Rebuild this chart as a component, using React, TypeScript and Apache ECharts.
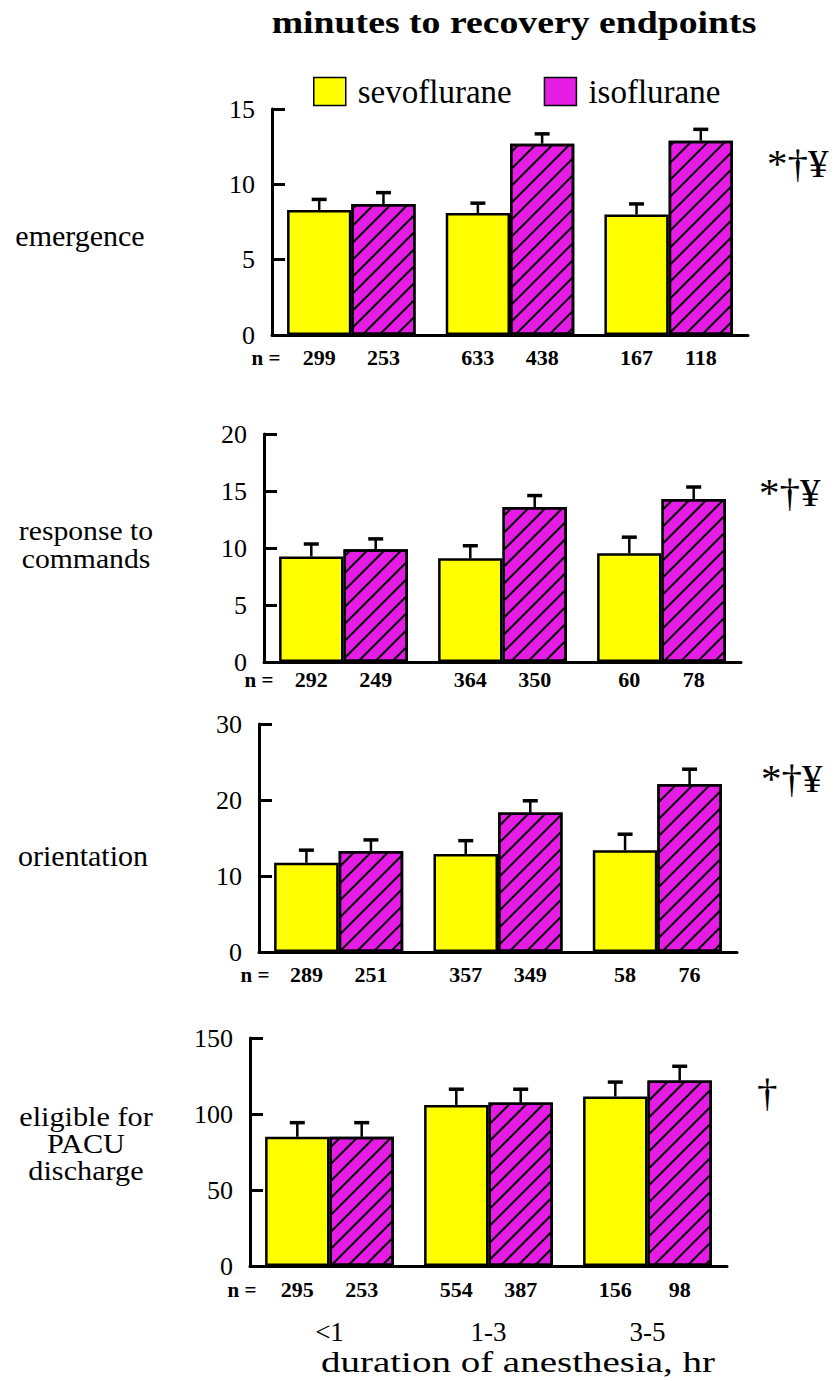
import React, { useEffect, useRef } from 'react';
import * as echarts from 'echarts';

// ---------- data ----------
const categories = ['<1', '1-3', '3-5'];
const seriesNames = ['sevoflurane', 'isoflurane'];
const panelLabels = ['emergence', 'response to\ncommands', 'orientation', 'eligible for\nPACU\ndischarge'];
const significance = ['*†¥', '*†¥', '*†¥', '†'];
const chartTitle = 'minutes to recovery endpoints';
const xAxisTitle = 'duration of anesthesia, hr';
const nPrefix = 'n =';

const axisMax = [15, 20, 30, 150];
const axisInterval = [5, 5, 10, 50];

// emergence
const emergenceSevo = [8.3, 8.1, 8.0];
const emergenceIso = [8.7, 12.7, 12.9];
const emergenceSevoErr = [0.7, 0.65, 0.7];
const emergenceIsoErr = [0.75, 0.65, 0.75];
const emergenceSevoN = [299, 633, 167];
const emergenceIsoN = [253, 438, 118];

// response to commands
const responseSevo = [9.25, 9.1, 9.55];
const responseIso = [9.9, 13.6, 14.3];
const responseSevoErr = [1.1, 1.1, 1.4];
const responseIsoErr = [0.9, 1.0, 1.05];
const responseSevoN = [292, 364, 60];
const responseIsoN = [249, 350, 78];

// orientation
const orientationSevo = [11.75, 12.9, 13.4];
const orientationIso = [13.3, 18.35, 22.1];
const orientationSevoErr = [1.65, 1.75, 2.1];
const orientationIsoErr = [1.45, 1.55, 1.95];
const orientationSevoN = [289, 357, 58];
const orientationIsoN = [251, 349, 76];

// eligible for PACU discharge
const pacuSevo = [85, 106, 111.5];
const pacuIso = [85, 107.5, 122];
const pacuSevoErr = [9.3, 10.3, 9.5];
const pacuIsoErr = [9.3, 8.8, 9.4];
const pacuSevoN = [295, 554, 156];
const pacuIsoN = [253, 387, 98];

const panels = [
  { sevo: emergenceSevo, iso: emergenceIso, sevoErr: emergenceSevoErr, isoErr: emergenceIsoErr, sevoN: emergenceSevoN, isoN: emergenceIsoN },
  { sevo: responseSevo, iso: responseIso, sevoErr: responseSevoErr, isoErr: responseIsoErr, sevoN: responseSevoN, isoN: responseIsoN },
  { sevo: orientationSevo, iso: orientationIso, sevoErr: orientationSevoErr, isoErr: orientationIsoErr, sevoN: orientationSevoN, isoN: orientationIsoN },
  { sevo: pacuSevo, iso: pacuIso, sevoErr: pacuSevoErr, isoErr: pacuIsoErr, sevoN: pacuSevoN, isoN: pacuIsoN },
];

// ---------- layout / style ----------
const W = 834;
const H = 1381;
const FONT = "'Liberation Serif', 'Times New Roman', serif";
const YELLOW = '#FFFF00';
const MAGENTA = '#E41CE4';

const grids = [
  { left: 272, top: 109, width: 476, height: 226 },
  { left: 264, top: 434, width: 477, height: 228 },
  { left: 259, top: 724, width: 478, height: 228 },
  { left: 250, top: 1038, width: 477, height: 228 },
];
const nLabelDistance = [11, 6, 11, 12];
const nPrefixPos = [[266, 358], [259, 680], [255, 975], [242, 1290]];
const labelPos = [[80, 235], [86, 544], [83, 855], [86, 1144]];
const labelFont = [30, 28, 30, 27];
const labelLineHeight = [30, 28, 30, 27];
const labelScaleX = [1, 1.06, 1, 1.12];
const sigPos = [[767, 163], [759, 492], [761, 778], [757, 1092]];

const BAR_CAT_GAP = 0.19;

function errorSeries(vals: number[], errs: number[], side: number, gi: number) {
  return {
    type: 'custom',
    xAxisIndex: gi,
    yAxisIndex: gi,
    z: 5,
    silent: true,
    data: vals.map((v, k) => [k, v, errs[k]]),
    encode: { x: 0, y: 1 },
    renderItem: (params: any, api: any) => {
      const k = api.value(0);
      const v = api.value(1);
      const e = api.value(2);
      const base = api.coord([k, v]);
      const top = api.coord([k, v + e]);
      const cw = api.size([1, 0])[0];
      const x = base[0] + side * cw * (1 - BAR_CAT_GAP) / 4;
      return {
        type: 'group',
        children: [
          { type: 'line', shape: { x1: x, y1: base[1], x2: x, y2: top[1] }, style: { stroke: '#000', lineWidth: 2.5 } },
          { type: 'line', shape: { x1: x - 7.5, y1: top[1], x2: x + 7.5, y2: top[1] }, style: { stroke: '#000', lineWidth: 3.5 } },
        ],
      };
    },
  };
}

function buildOption() {
  const xAxis: any[] = [];
  const yAxis: any[] = [];
  const series: any[] = [];
  const graphic: any[] = [];

  panels.forEach((p, i) => {
    xAxis.push({
      type: 'category',
      gridIndex: i,
      data: categories,
      axisLine: { lineStyle: { color: '#000', width: 3 } },
      axisTick: { show: false },
      axisLabel: {
        show: i === 3,
        fontSize: 27,
        fontFamily: FONT,
        color: '#000',
        margin: 52,
      },
    });
    yAxis.push({
      type: 'value',
      gridIndex: i,
      min: 0,
      max: axisMax[i],
      interval: axisInterval[i],
      axisLine: { show: true, lineStyle: { color: '#000', width: 3 } },
      axisTick: { show: true, inside: true, length: 13, lineStyle: { color: '#000', width: 3 } },
      axisLabel: { fontSize: 26, fontFamily: FONT, color: '#000', margin: 17 },
      splitLine: { show: false },
    });

    const nLabel = (dist: number) => ({
      show: true,
      position: 'bottom',
      distance: dist,
      formatter: (params: any) => String(params.data.n),
      fontSize: 22,
      fontWeight: 'bold',
      fontFamily: FONT,
      color: '#000',
    });

    series.push({
      type: 'bar',
      name: seriesNames[0],
      xAxisIndex: i,
      yAxisIndex: i,
      barGap: '0%',
      barCategoryGap: BAR_CAT_GAP * 100 + '%',
      data: p.sevo.map((v, k) => ({ value: v, n: p.sevoN[k] })),
      itemStyle: { color: YELLOW, borderColor: '#000', borderWidth: 2.5 },
      label: nLabel(nLabelDistance[i]),
    });
    series.push({
      type: 'bar',
      name: seriesNames[1],
      xAxisIndex: i,
      yAxisIndex: i,
      barGap: '0%',
      barCategoryGap: BAR_CAT_GAP * 100 + '%',
      data: p.iso.map((v, k) => ({ value: v, n: p.isoN[k] })),
      itemStyle: {
        color: MAGENTA,
        borderColor: '#000',
        borderWidth: 2.5,
        decal: {
          symbol: 'rect',
          symbolSize: 1,
          dashArrayX: [1, 0],
          dashArrayY: [2, 10],
          rotation: -Math.PI / 4,
          color: '#000',
        },
      },
      label: nLabel(nLabelDistance[i]),
    });
    series.push(errorSeries(p.sevo, p.sevoErr, -1, i));
    series.push(errorSeries(p.iso, p.isoErr, 1, i));

    graphic.push({
      type: 'text',
      x: labelPos[i][0],
      y: labelPos[i][1],
      scaleX: labelScaleX[i],
      style: {
        text: panelLabels[i],
        font: `${labelFont[i]}px ${FONT}`,
        fill: '#000',
        textAlign: 'center',
        textVerticalAlign: 'middle',
        lineHeight: labelLineHeight[i],
      },
    });
    graphic.push({
      type: 'text',
      x: sigPos[i][0],
      y: sigPos[i][1],
      style: {
        text: significance[i],
        font: `41px ${FONT}`,
        fill: '#000',
        textAlign: 'left',
        textVerticalAlign: 'middle',
      },
    });
    graphic.push({
      type: 'text',
      x: nPrefixPos[i][0],
      y: nPrefixPos[i][1],
      style: {
        text: nPrefix,
        font: `bold 21px ${FONT}`,
        fill: '#000',
        textAlign: 'center',
        textVerticalAlign: 'middle',
      },
    });
  });

  graphic.push({
    type: 'text',
    x: 514,
    y: 22,
    scaleX: 1.18,
    style: {
      text: chartTitle,
      font: `bold 32px ${FONT}`,
      fill: '#000',
      textAlign: 'center',
      textVerticalAlign: 'middle',
    },
  });
  graphic.push({
    type: 'text',
    x: 518,
    y: 1362,
    scaleX: 1.3,
    style: {
      text: xAxisTitle,
      font: `30px ${FONT}`,
      fill: '#000',
      textAlign: 'center',
      textVerticalAlign: 'middle',
    },
  });

  return {
    animation: false,
    backgroundColor: '#ffffff',
    grid: grids,
    xAxis,
    yAxis,
    series,
    graphic,
    legend: {
      left: 308,
      top: 70,
      icon: 'rect',
      itemWidth: 32,
      itemHeight: 28,
      itemGap: 32,
      selectedMode: false,
      itemStyle: { borderColor: '#000', borderWidth: 1.5, decal: 'none' },
      textStyle: { fontSize: 33, fontFamily: FONT, color: '#000', padding: [0, 0, 0, 7] },
      data: [{ name: seriesNames[0] }, { name: seriesNames[1], itemStyle: { decal: 'none' } }],
    },
  };
}

export default function App() {
  const ref = useRef<HTMLDivElement>(null);
  useEffect(() => {
    document.body.style.margin = '0';
    if (!ref.current) return;
    const chart = echarts.init(ref.current, undefined, { renderer: 'svg' });
    chart.setOption(buildOption() as any);
    return () => chart.dispose();
  }, []);
  return <div ref={ref} style={{ width: W, height: H }} />;
}
